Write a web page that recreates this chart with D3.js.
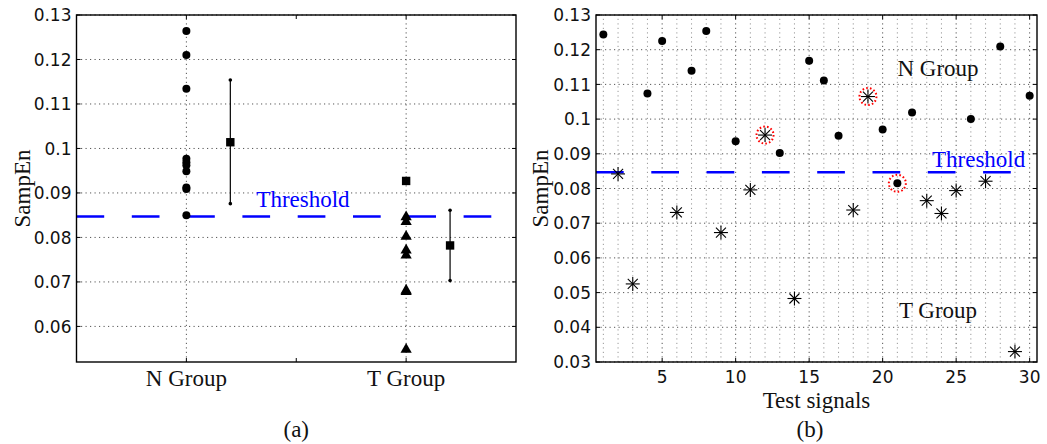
<!DOCTYPE html>
<html>
<head>
<meta charset="utf-8">
<script src="https://cdn.jsdelivr.net/npm/d3@7"></script>
<style>
  body { margin: 0; background: #fff; }
  .tick-lbl { font-family: "DejaVu Sans", sans-serif; font-size: 17px; fill: #111; }
  .serif { font-family: "Liberation Serif", "Times New Roman", serif; font-size: 23px; fill: #111; }
  .grid { stroke: #555; stroke-width: 1; stroke-dasharray: 1.2,3.3; }
  .gridMinor { stroke: #999; stroke-width: 1; stroke-dasharray: 1.2,3.3; }
</style>
</head>
<body>
<svg id="chart" width="1047" height="444"></svg>
<script>
// ---- panel (a): training groups ----
const groupNames = ["N Group", "T Group"];
const nGroupVals = [0.1264, 0.1210, 0.1134, 0.0977, 0.0969, 0.0962, 0.0949, 0.0912, 0.0909, 0.0850];
const tGroupVals = [0.0846, 0.0835, 0.0802, 0.0771, 0.0760, 0.0681, 0.0678, 0.0548];
const tGroupSquare = [0.0927];
const errMean = [0.1014, 0.0782];
const errLow = [0.0876, 0.0703];
const errHigh = [0.1154, 0.0861];
const yTicksA = [0.06, 0.07, 0.08, 0.09, 0.1, 0.11, 0.12, 0.13];

// ---- panel (b): test signals ----
const nSignals = [1, 4, 5, 7, 8, 10, 13, 15, 16, 17, 20, 21, 22, 26, 28, 30];
const nValues = [0.1244, 0.1074, 0.1225, 0.1139, 0.1254, 0.0936, 0.0902, 0.1168, 0.1111, 0.0952, 0.0970, 0.0815, 0.1019, 0.1000, 0.1209, 0.1067];
const tSignals = [2, 3, 6, 9, 11, 12, 14, 18, 19, 23, 24, 25, 27, 29];
const tValues = [0.0842, 0.0525, 0.0731, 0.0673, 0.0796, 0.0954, 0.0483, 0.0738, 0.1065, 0.0765, 0.0728, 0.0794, 0.0821, 0.0330];
const misclassified = [12, 19, 21];
const xTicksB = [5, 10, 15, 20, 25, 30];
const yTicksB = [0.03, 0.04, 0.05, 0.06, 0.07, 0.08, 0.09, 0.1, 0.11, 0.12, 0.13];

const threshold = 0.0847;

const svg = d3.select("#chart");
const fmt = d => d3.format("")(+d.toFixed(2));

function frame(g, x0, x1, y0, y1) {
  g.append("rect").attr("x", x0).attr("y", y0)
    .attr("width", x1 - x0).attr("height", y1 - y0)
    .attr("fill", "none").attr("stroke", "#000").attr("stroke-width", 1.4);
}

function yAxis(g, y, ticks, x0, x1) {
  ticks.forEach(t => {
    g.append("line").attr("x1", x0).attr("x2", x0 + 4).attr("y1", y(t)).attr("y2", y(t))
      .attr("stroke", "#000");
    g.append("line").attr("x1", x1).attr("x2", x1 - 4).attr("y1", y(t)).attr("y2", y(t))
      .attr("stroke", "#000");
    g.append("text").attr("class", "tick-lbl")
      .attr("x", x0 - 5).attr("y", y(t)).attr("dy", "0.36em")
      .attr("text-anchor", "end").text(fmt(t));
  });
}

function thresholdLine(g, y, x0, x1) {
  g.append("line").attr("x1", x0).attr("x2", x1)
    .attr("y1", y(threshold)).attr("y2", y(threshold))
    .attr("stroke", "#0000ff").attr("stroke-width", 2.5)
    .attr("stroke-dasharray", "27.7,27.6");
}

// ===== panel (a) =====
{
  const x = d3.scaleLinear().domain([0.5, 2.5]).range([76.5, 516]);
  const y = d3.scaleLinear().domain([0.052, 0.13]).range([362, 15]);
  const g = svg.append("g");

  yTicksA.forEach(t => {
    g.append("line").attr("class", "grid")
      .attr("x1", x(0.5)).attr("x2", x(2.5)).attr("y1", y(t)).attr("y2", y(t));
  });
  [1, 2].forEach(t => {
    g.append("line").attr("class", "grid")
      .attr("x1", x(t)).attr("x2", x(t)).attr("y1", y(0.052)).attr("y2", y(0.13));
  });

  thresholdLine(g, y, x(0.5), x(2.5));

  g.selectAll("circle.n").data(nGroupVals).enter().append("circle")
    .attr("cx", x(1)).attr("cy", d => y(d)).attr("r", 4).attr("fill", "#000");

  const tri = d3.symbol().type(d3.symbolTriangle).size(55);
  g.selectAll("path.t").data(tGroupVals).enter().append("path")
    .attr("d", tri).attr("transform", d => `translate(${x(2)},${y(d)})`).attr("fill", "#000");

  g.selectAll("rect.sq").data(tGroupSquare).enter().append("rect")
    .attr("x", x(2) - 4.2).attr("y", d => y(d) - 4.2).attr("width", 8.4).attr("height", 8.4)
    .attr("fill", "#000");

  // mean +/- errorbars
  [0, 1].forEach(i => {
    const ex = x(i + 1.2);
    g.append("line").attr("x1", ex).attr("x2", ex)
      .attr("y1", y(errLow[i])).attr("y2", y(errHigh[i]))
      .attr("stroke", "#000").attr("stroke-width", 1.2);
    [errLow[i], errHigh[i]].forEach(v => {
      g.append("circle").attr("cx", ex).attr("cy", y(v)).attr("r", 1.8).attr("fill", "#000");
    });
    g.append("rect").attr("x", ex - 4.2).attr("y", y(errMean[i]) - 4.2)
      .attr("width", 8.4).attr("height", 8.4).attr("fill", "#000");
  });

  frame(g, x(0.5), x(2.5), y(0.13), y(0.052));
  yAxis(g, y, yTicksA, x(0.5), x(2.5));

  [1, 1.5, 2].forEach(t => {
    g.append("line").attr("x1", x(t)).attr("x2", x(t)).attr("y1", y(0.052)).attr("y2", y(0.052) - 4)
      .attr("stroke", "#000");
    g.append("line").attr("x1", x(t)).attr("x2", x(t)).attr("y1", y(0.13)).attr("y2", y(0.13) + 4)
      .attr("stroke", "#000");
  });
  groupNames.forEach((n, i) => {
    g.append("text").attr("class", "serif").attr("x", x(i + 1)).attr("y", 386)
      .attr("text-anchor", "middle").text(n);
  });

  g.append("text").attr("class", "serif").style("fill", "#0000ff")
    .attr("x", 303).attr("y", 207).attr("text-anchor", "middle").text("Threshold");

  g.append("text").attr("class", "serif")
    .attr("transform", `translate(30,${(y(0.13) + y(0.052)) / 2}) rotate(-90)`)
    .attr("text-anchor", "middle").text("SampEn");

  g.append("text").attr("class", "serif").attr("x", x(1.5)).attr("y", 437)
    .attr("text-anchor", "middle").text("(a)");
}

// ===== panel (b) =====
{
  const x = d3.scaleLinear().domain([0.5, 30.5]).range([596, 1037]);
  const y = d3.scaleLinear().domain([0.03, 0.13]).range([362, 15]);
  const g = svg.append("g");

  d3.range(1, 31).forEach(t => {
    g.append("line").attr("class", xTicksB.includes(t) ? "grid" : "gridMinor")
      .attr("x1", x(t)).attr("x2", x(t)).attr("y1", y(0.03)).attr("y2", y(0.13));
  });
  yTicksB.forEach(t => {
    g.append("line").attr("class", "grid")
      .attr("x1", x(0.5)).attr("x2", x(30.5)).attr("y1", y(t)).attr("y2", y(t));
  });

  thresholdLine(g, y, x(0.5), x(30.5));

  g.selectAll("circle.n").data(nSignals).enter().append("circle")
    .attr("cx", d => x(d)).attr("cy", (d, i) => y(nValues[i])).attr("r", 4).attr("fill", "#000");

  const ast = g.selectAll("g.ast").data(tSignals).enter().append("g")
    .attr("transform", (d, i) => `translate(${x(d)},${y(tValues[i])})`);
  const s = 7, s2 = 5;
  [[-s, 0, s, 0], [0, -s, 0, s], [-s2, -s2, s2, s2], [-s2, s2, s2, -s2]].forEach(l => {
    ast.append("line").attr("x1", l[0]).attr("y1", l[1]).attr("x2", l[2]).attr("y2", l[3])
      .attr("stroke", "#000").attr("stroke-width", 1.1);
  });

  misclassified.forEach(m => {
    let v = nSignals.includes(m) ? nValues[nSignals.indexOf(m)] : tValues[tSignals.indexOf(m)];
    g.append("circle").attr("cx", x(m)).attr("cy", y(v)).attr("r", 8.5)
      .attr("fill", "none").attr("stroke", "#ff0000").attr("stroke-width", 2)
      .attr("stroke-dasharray", "1.6,2.2");
  });

  frame(g, x(0.5), x(30.5), y(0.13), y(0.03));
  yAxis(g, y, yTicksB, x(0.5), x(30.5));

  xTicksB.forEach(t => {
    g.append("line").attr("x1", x(t)).attr("x2", x(t)).attr("y1", y(0.03)).attr("y2", y(0.03) - 4)
      .attr("stroke", "#000");
    g.append("line").attr("x1", x(t)).attr("x2", x(t)).attr("y1", y(0.13)).attr("y2", y(0.13) + 4)
      .attr("stroke", "#000");
    g.append("text").attr("class", "tick-lbl").attr("x", x(t)).attr("y", 383)
      .attr("text-anchor", "middle").text(t);
  });

  g.append("text").attr("class", "serif").attr("x", 938).attr("y", 76)
    .attr("text-anchor", "middle").text("N Group");
  g.append("text").attr("class", "serif").attr("x", 938).attr("y", 318)
    .attr("text-anchor", "middle").text("T Group");
  g.append("text").attr("class", "serif").style("fill", "#0000ff")
    .attr("x", 932).attr("y", 167).text("Threshold");

  g.append("text").attr("class", "serif")
    .attr("transform", `translate(548,${(y(0.13) + y(0.03)) / 2}) rotate(-90)`)
    .attr("text-anchor", "middle").text("SampEn");
  g.append("text").attr("class", "serif").attr("x", (x(0.5) + x(30.5)) / 2).attr("y", 408)
    .attr("text-anchor", "middle").text("Test signals");
  g.append("text").attr("class", "serif").attr("x", 810).attr("y", 437)
    .attr("text-anchor", "middle").text("(b)");
}
</script>
</body>
</html>
